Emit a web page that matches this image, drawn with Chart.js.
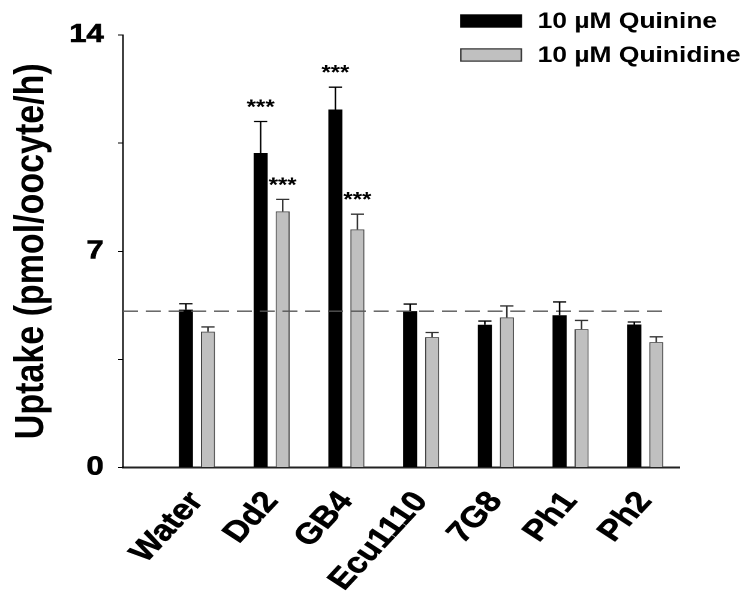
<!DOCTYPE html>
<html>
<head>
<meta charset="utf-8">
<script src="https://cdn.jsdelivr.net/npm/chart.js@4/dist/chart.umd.min.js"></script>
<style>
  html, body { margin: 0; padding: 0; background: #fff; overflow: hidden; }
  /* the figure is drawn narrow and widened horizontally */
  #wrap { width: 622px; height: 592px; transform: scaleX(1.19936); transform-origin: 0 0; }
</style>
</head>
<body>
<div id="wrap"><canvas id="c" width="622" height="592"></canvas></div>
<script>
const categories   = ['Water', 'Dd2', 'GB4', 'Ecu1110', '7G8', 'Ph1', 'Ph2'];
const quinine      = [5.11, 10.18, 11.59, 5.06, 4.62, 4.93, 4.63];
const quinineErr   = [0.19, 1.02, 0.72, 0.23, 0.12, 0.43, 0.08];
const quinidine    = [4.40, 8.29, 7.71, 4.22, 4.86, 4.48, 4.06];
const quinidineErr = [0.15, 0.39, 0.49, 0.15, 0.37, 0.28, 0.17];
const quinineSig   = ['', '***', '***', '', '', '', ''];
const quinidineSig = ['', '***', '***', '', '', '', ''];
const yMajorTicks  = [0, 7, 14];
const yMinorTicks  = [3.5, 10.5];
const waterLevel   = 5.06;

const FONT = "Arial, 'Liberation Sans', Helvetica, sans-serif";
const errors = [quinineErr, quinidineErr];
const stars  = [quinineSig, quinidineSig];

// upper error bars and significance marks
const errorBars = {
  id: 'errorBars',
  afterDatasetsDraw(chart) {
    const ctx = chart.ctx, y = chart.scales.y;
    ctx.save();
    chart.data.datasets.forEach((ds, di) => {
      const meta = chart.getDatasetMeta(di);
      meta.data.forEach((bar, j) => {
        const v = ds.data[j].y, e = errors[di][j];
        const y0 = y.getPixelForValue(v), y1 = y.getPixelForValue(v + e);
        const half = bar.width * 0.47;
        ctx.strokeStyle = di === 0 ? '#000' : '#333';
        ctx.lineWidth = 1.3;
        ctx.beginPath();
        ctx.moveTo(bar.x, y0); ctx.lineTo(bar.x, y1);
        ctx.moveTo(bar.x - half, y1); ctx.lineTo(bar.x + half, y1);
        ctx.stroke();
        const s = stars[di][j];
        if (s) {
          ctx.fillStyle = '#000';
          ctx.font = 'bold 20px ' + FONT;
          ctx.textAlign = 'center';
          ctx.textBaseline = 'alphabetic';
          ctx.fillText(s, bar.x, y1 - 8);
        }
      });
    });
    ctx.restore();
  }
};

// dashed reference line at the water level
const refLine = {
  id: 'refLine',
  afterDatasetsDraw(chart) {
    const ctx = chart.ctx, x = chart.scales.x, y = chart.scales.y;
    const py = y.getPixelForValue(waterLevel);
    ctx.save();
    ctx.strokeStyle = '#555';
    ctx.lineWidth = 1.4;
    ctx.setLineDash([12.5, 6.5]);
    ctx.beginPath();
    ctx.moveTo(x.left, py);
    ctx.lineTo(x.getPixelForValue(6.25), py);
    ctx.stroke();
    ctx.restore();
  }
};

// two-row legend in the top right corner
const cornerLegend = {
  id: 'cornerLegend',
  afterDraw(chart) {
    const ctx = chart.ctx;
    ctx.save();
    chart.data.datasets.forEach((ds, i) => {
      const bx = 383.6, by = 14.3 + i * 34, bw = 51.7, bh = 13.4;
      ctx.fillStyle = ds.backgroundColor;
      ctx.fillRect(bx, by, bw, bh);
      if (i === 1) {
        ctx.strokeStyle = '#333';
        ctx.lineWidth = 1.2;
        ctx.strokeRect(bx + 0.6, by + 0.6, bw - 1.2, bh - 1.2);
      }
      ctx.fillStyle = '#000';
      ctx.font = 'bold 22px ' + FONT;
      ctx.textAlign = 'left';
      ctx.textBaseline = 'middle';
      ctx.fillText(ds.label, 448.3, by + bh / 2 + 1);
    });
    ctx.restore();
  }
};

new Chart(document.getElementById('c'), {
  type: 'bar',
  data: {
    datasets: [
      {
        label: '10 \u00b5M Quinine',
        data: categories.map((c, i) => ({ x: i, y: quinine[i] })),
        backgroundColor: '#000000',
        borderColor: '#000000',
        borderWidth: 0
      },
      {
        label: '10 \u00b5M Quinidine',
        data: categories.map((c, i) => ({ x: i, y: quinidine[i] })),
        backgroundColor: '#c0c0c0',
        borderColor: '#444444',
        borderWidth: 1
      }
    ]
  },
  options: {
    responsive: false,
    animation: false,
    devicePixelRatio: 2,
    categoryPercentage: 0.589,
    barPercentage: 0.64,
    layout: { padding: { top: 35, left: 0, right: 55.3, bottom: 0 } },
    plugins: { legend: { display: false }, tooltip: { enabled: false } },
    scales: {
      x: {
        type: 'linear',
        min: -0.99,
        max: 6.46,
        offset: false,
        afterFit: s => { s.height = 124.5; },
        afterBuildTicks: s => { s.ticks = categories.map((c, i) => ({ value: i })); },
        grid: { display: false },
        border: { display: true, color: '#222', width: 2 },
        ticks: {
          autoSkip: false,
          minRotation: 52,
          maxRotation: 52,
          padding: 10,
          color: '#000',
          textStrokeColor: '#000',
          textStrokeWidth: 0.6,
          font: { family: FONT, size: 29, weight: 'bold' },
          callback: v => categories[v] ?? ''
        }
      },
      y: {
        min: 0,
        max: 14,
        afterFit: s => { s.width = 102.5; },
        afterBuildTicks: s => {
          s.ticks = [...yMajorTicks, ...yMinorTicks].sort((a, b) => a - b).map(v => ({ value: v }));
        },
        grid: { drawOnChartArea: false, drawTicks: true, tickLength: 4, color: '#000', lineWidth: 1 },
        border: { display: true, color: '#000', width: 1.2 },
        ticks: {
          padding: 12,
          color: '#000',
          textStrokeColor: '#000',
          textStrokeWidth: 0.6,
          font: { family: FONT, size: 26, weight: 'bold' },
          callback: v => yMajorTicks.includes(v) ? String(v) : ''
        },
        title: {
          display: true,
          text: 'Uptake (pmol/oocyte/h)',
          color: '#000',
          padding: { top: 6, bottom: 0 },
          font: { family: FONT, size: 34, weight: 'bold' }
        }
      }
    }
  },
  plugins: [refLine, errorBars, cornerLegend]
});
</script>
</body>
</html>
